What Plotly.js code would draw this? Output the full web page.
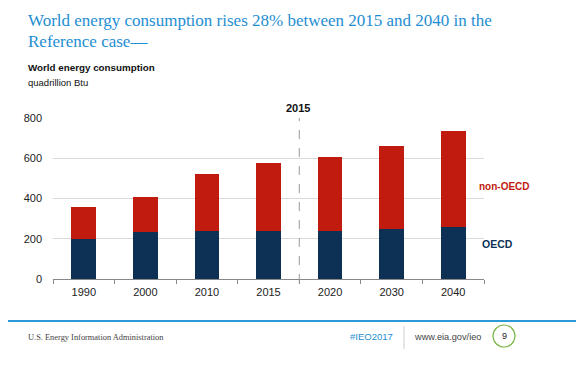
<!DOCTYPE html>
<html>
<head>
<meta charset="utf-8">
<script src="https://cdn.plot.ly/plotly-3.0.1.min.js"></script>
<style>html,body{margin:0;padding:0;background:#fff;}#chart{width:576px;height:372px;}</style>
</head>
<body>
<div id="chart"></div>
<script>
// Data (quadrillion Btu)
const years = ["1990", "2000", "2010", "2015", "2020", "2030", "2040"];
const oecd = [200, 235, 241, 240, 241, 248, 260];
const nonOecd = [156, 174, 281, 335, 363, 414, 475];
const yTicks = [0, 200, 400, 600, 800];

const W = 576, H = 372;
const M = {l: 53, r: 92, t: 118, b: 93};
const PW = W - M.l - M.r, PH = H - M.t - M.b;
const px = x => (x - M.l) / PW;
const py = y => (H - M.b - y) / PH;

const navy = "#0C3154", red = "#C11B10";

const traces = [
  {type: "bar", x: years, y: oecd, name: "OECD", marker: {color: navy}, hoverinfo: "none"},
  {type: "bar", x: years, y: nonOecd, name: "non-OECD", marker: {color: red}, hoverinfo: "none"}
];

const ann = (x, y, text, font, xanchor) => ({
  xref: "paper", yref: "paper", x: px(x), y: py(y), text: text, showarrow: false,
  xanchor: xanchor || "left", yanchor: "middle", font: font
});

const layout = {
  width: W, height: H,
  margin: M,
  paper_bgcolor: "#fff", plot_bgcolor: "#fff",
  barmode: "stack", bargap: 0.6,
  showlegend: false,
  font: {family: "Liberation Sans, Arial, sans-serif", size: 11, color: "#222"},
  xaxis: {
    type: "category", showgrid: false, showline: true, linecolor: "#888", linewidth: 1,
    ticks: "outside", tickson: "boundaries", ticklen: 4, tickcolor: "#888",
    tickfont: {size: 11, color: "#222"}, ticklabelstandoff: 3, zeroline: false, fixedrange: true
  },
  yaxis: {
    range: [0, 800], tickvals: yTicks, ticktext: yTicks.map(String),
    showgrid: true, gridcolor: "#d9d9d9", gridwidth: 1, zeroline: false, showline: false,
    tickfont: {size: 11, color: "#222"}, ticklabelstandoff: 10, fixedrange: true
  },
  shapes: [
    {type: "line", xref: "x", yref: "paper", x0: 3.5, x1: 3.5, y0: -0.025, y1: 1,
     line: {color: "#999", width: 1, dash: "dash"}},
    {type: "line", xref: "paper", yref: "paper", x0: px(8), x1: px(576), y0: py(321), y1: py(321),
     line: {color: "#2B9AD6", width: 2}},
    {type: "line", xref: "paper", yref: "paper", x0: px(404), x1: px(404), y0: py(326), y1: py(349),
     line: {color: "#ccc", width: 1}},
    {type: "circle", xref: "paper", yref: "paper", x0: px(493), x1: px(515), y0: py(325), y1: py(347),
     line: {color: "#7DB544", width: 1.2}}
  ],
  annotations: [
    ann(26, 20, "World energy consumption rises 28% between 2015 and 2040 in the",
        {family: "Liberation Serif, Times New Roman, serif", size: 17, color: "#1E8ED2"}),
    ann(26, 41, "Reference case—",
        {family: "Liberation Serif, Times New Roman, serif", size: 17, color: "#1E8ED2"}),
    ann(26, 67, "<b>World energy consumption</b>", {size: 9.8, color: "#111"}),
    ann(26, 83, "quadrillion Btu", {size: 9.5, color: "#111"}),
    ann(298, 108, "<b>2015</b>", {size: 11, color: "#111"}, "center"),
    ann(477, 186, "<b>non-OECD</b>", {size: 10, color: red}),
    ann(480, 244, "<b>OECD</b>", {size: 10.5, color: navy}),
    ann(26, 337, "U.S. Energy Information Administration",
        {family: "Liberation Serif, Times New Roman, serif", size: 8.4, color: "#444"}),
    ann(348, 336, "#IEO2017", {size: 9.5, color: "#1E8ED2"}),
    ann(412, 337, "www.eia.gov/ieo", {size: 9.2, color: "#444"}),
    ann(504, 336, "9", {size: 9, color: "#222"}, "center")
  ]
};

Plotly.newPlot("chart", traces, layout, {displayModeBar: false, staticPlot: true});
</script>
</body>
</html>
